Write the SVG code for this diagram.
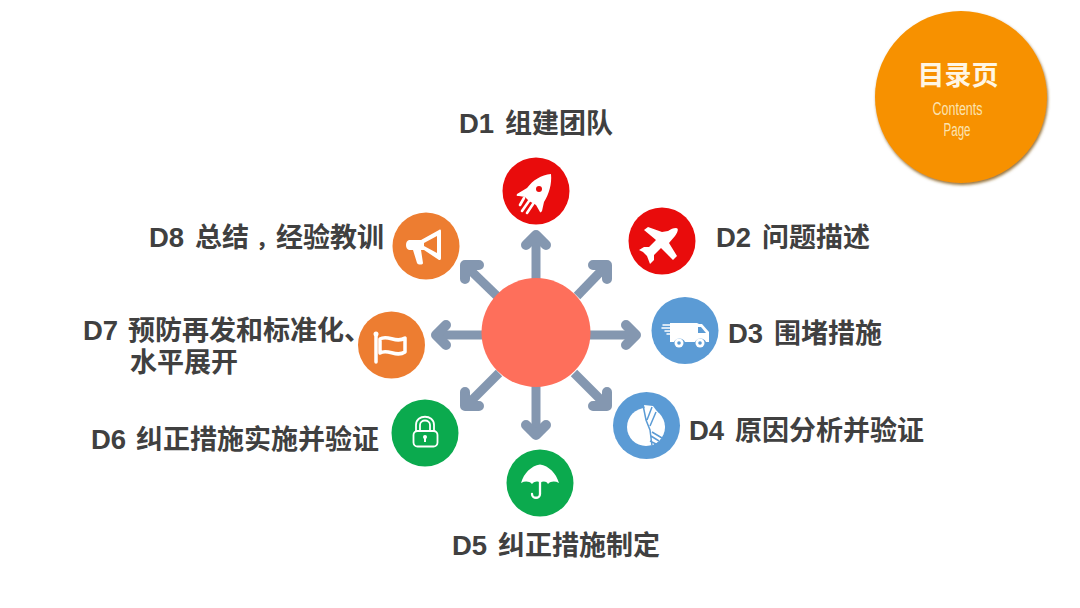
<svg xmlns="http://www.w3.org/2000/svg" width="1080" height="608" viewBox="0 0 1080 608">
<style>
.lb{font-family:"Liberation Sans","Noto Sans CJK SC",sans-serif;font-weight:700;font-size:27.5px;fill:#404040}
.cj{font-family:"Noto Sans CJK SC",sans-serif;font-weight:700;font-size:27px}
.cm{font-family:"Noto Sans CJK SC",sans-serif;font-weight:900;font-size:20px}
.sh{fill:none;stroke:#8497B0;stroke-width:9}
.hd{fill:none;stroke:#8497B0;stroke-width:10;stroke-linecap:round;stroke-linejoin:round}
.w{fill:#fff}
.o{fill:none;stroke:#fff;stroke-linecap:round;stroke-linejoin:round}
.red{fill:#E90C0C}.blu{fill:#5B9BD5}.grn{fill:#0BAA4E}.org{fill:#ED7D31}
</style>
<defs>
<filter id="s" x="-10%" y="-10%" width="120%" height="125%"><feDropShadow dx="1" dy="2" stdDeviation="1.500" flood-color="#8a6420" flood-opacity="0.9"/></filter>
</defs>
<rect width="1080" height="608" fill="#fff"/>
<g id="connectors">
<path class="sh" d="M536 280V238"/><path class="hd" d="M526 245L536 235L546 245"/>
<path class="sh" d="M577 296L605 267"/><path class="hd" d="M593 265H607V279"/>
<path class="sh" d="M588 335H634"/><path class="hd" d="M626 325L636 335L626 345"/>
<path class="sh" d="M574 373L605 404"/><path class="hd" d="M593 406H607V392"/>
<path class="sh" d="M536 385V433"/><path class="hd" d="M526 425L536 435L546 425"/>
<path class="sh" d="M499 373L467 405"/><path class="hd" d="M465 392V406H479"/>
<path class="sh" d="M484 335H438"/><path class="hd" d="M446 325L436 335L446 345"/>
<path class="sh" d="M497 296L467 267"/><path class="hd" d="M465 279V265H479"/>
</g>
<g id="hub"><circle cx="536" cy="332.500" r="54.500" fill="#FE6F5B"/></g>
<g id="toc">
<circle cx="961" cy="97" r="86" fill="#F79100" filter="url(#s)"/>
<text x="958" y="85" text-anchor="middle" font-family="'Noto Sans CJK SC',sans-serif" font-weight="700" font-size="27" fill="#FFF6E4">目录页</text>
<text x="957.500" y="115" text-anchor="middle" font-family="'Liberation Sans Narrow','Liberation Sans',sans-serif" font-size="18" fill="#FBE3B0" textLength="50" lengthAdjust="spacingAndGlyphs">Contents</text>
<text x="957" y="136" text-anchor="middle" font-family="'Liberation Sans Narrow','Liberation Sans',sans-serif" font-size="18" fill="#FBE3B0" textLength="27" lengthAdjust="spacingAndGlyphs">Page</text>
</g>
<g id="d1">
<circle class="red" cx="536" cy="191" r="33.500"/>
<path class="w" d="M551 174C541 175 533 180 527 188L517 194C516 196 517 196 519 196L525 197L529 201L536 205L540 212C541 213 541 212 542 211L544 202C549 194 552 184 551 174Z"/>
<circle class="red" cx="539" cy="189" r="3"/>
<path class="o" stroke-width="2.600" d="M520 205L524 198M522 211L529 201M527 213L533 204" stroke-linecap="butt"/>
<text class="lb" y="133"><tspan x="459">D1</tspan><tspan class="cj" x="505">组建团队</tspan></text>
</g>
<g id="d2">
<circle class="red" cx="662" cy="241" r="33.500"/>
<path class="w" d="M676 228C679 228 678 232 675 236L669 243L677 256L673 260L661 248L654 255L654 260L650 264L647 256L643 252L639 250L644 247L649 247L656 240L644 230L648 227L662 232L668 231C671 229 673 228 676 228Z"/>
<text class="lb" y="247"><tspan x="716">D2</tspan><tspan class="cj" x="762">问题描述</tspan></text>
</g>
<g id="d3">
<circle class="blu" cx="685" cy="330.500" r="33.500"/>
<path class="w" d="M670 323H697L699 324H702L709 332V342H706A6 6 0 0 0 695 342H685A6 6 0 0 0 674 342H670Z"/>
<path fill="#5B9BD5" d="M698 327H701L706 333H698Z"/>
<circle class="w" cx="679" cy="343" r="4.500"/><circle class="blu" cx="679" cy="343" r="1.800"/>
<circle class="w" cx="700" cy="343" r="4.500"/><circle class="blu" cx="700" cy="343" r="1.800"/>
<path class="o" stroke-width="1.500" d="M663 325H670M662 328H670M665 331H670M667 334H670"/>
<text class="lb" y="343"><tspan x="728">D3</tspan><tspan class="cj" x="774">围堵措施</tspan></text>
</g>
<g id="d4">
<circle class="blu" cx="646.500" cy="425.500" r="33.500"/>
<circle class="w" cx="646" cy="427" r="19"/>
<path class="w" d="M644 405L653 406L659 414L665 427L659 441L651 446L650 432Z"/>
<path fill="none" stroke="#5B9BD5" stroke-width="1.500" d="M643 405L646 420L650 430L652 446M652 407L647 420M656 412L650 426M652 432L662 438M651 436L659 441M650 441L656 444"/>
<text class="lb" y="440"><tspan x="689">D4</tspan><tspan class="cj" x="735">原因分析并验证</tspan></text>
</g>
<g id="d5">
<circle class="grn" cx="540" cy="483" r="33.500"/>
<path class="w" d="M540 464.500C531 466 524 473 521 483C525 481 529 481 532 484C535 481 538 481 540 483C543 481 546 481 548 484C551 481 555 481 559 483C556 473 549 466 540 464.500Z"/>
<path class="o" stroke-width="2.300" d="M540 482V494C540 499 532 499 532 494"/>
<text class="lb" y="555"><tspan x="452">D5</tspan><tspan class="cj" x="498">纠正措施制定</tspan></text>
</g>
<g id="d6">
<circle class="grn" cx="425" cy="433" r="33.500"/>
<path class="o" stroke-width="1.800" d="M416 431V425C416 414 434 414 434 425V431M420 431V425C420 419 430 419 430 425V431"/>
<rect x="413.500" y="431" width="24" height="15.500" rx="4" fill="none" stroke="#fff" stroke-width="1.800"/>
<circle class="w" cx="425" cy="437" r="2"/><path class="w" d="M424 437H426V442H424Z"/>
<text class="lb" y="449"><tspan x="91">D6</tspan><tspan class="cj" x="136">纠正措施实施并验证</tspan></text>
</g>
<g id="d7">
<circle class="org" cx="391.500" cy="345" r="33.500"/>
<path class="o" stroke-width="3.500" d="M376 335V362"/><circle class="w" cx="376" cy="334" r="2.500"/>
<path class="o" stroke-width="3.500" d="M380 339C388 334 396 344 405 338V352C396 358 388 348 380 353Z"/>
<text class="lb" y="340"><tspan x="83">D7</tspan><tspan class="cj" x="128">预防再发和标准化、</tspan></text>
<text class="lb" y="372"><tspan class="cj" x="130">水平展开</tspan></text>
</g>
<g id="d8">
<circle class="org" cx="426" cy="246" r="33.500"/>
<path class="w" d="M409 240H421L439 230C441 229 441 230 441 232V258C441 260 440 260 439 260L424 250H421L423 263C423 265 418 265 417 263L413 250H409C405 249 405 241 409 240Z"/>
<path fill="#ED7D31" d="M424 243L437 236V253L424 246Z"/>
<text class="lb" y="247"><tspan x="149">D8</tspan><tspan class="cj" x="195">总结</tspan><tspan class="cm" x="256">，</tspan><tspan class="cj" x="276">经验教训</tspan></text>
</g>
</svg>
